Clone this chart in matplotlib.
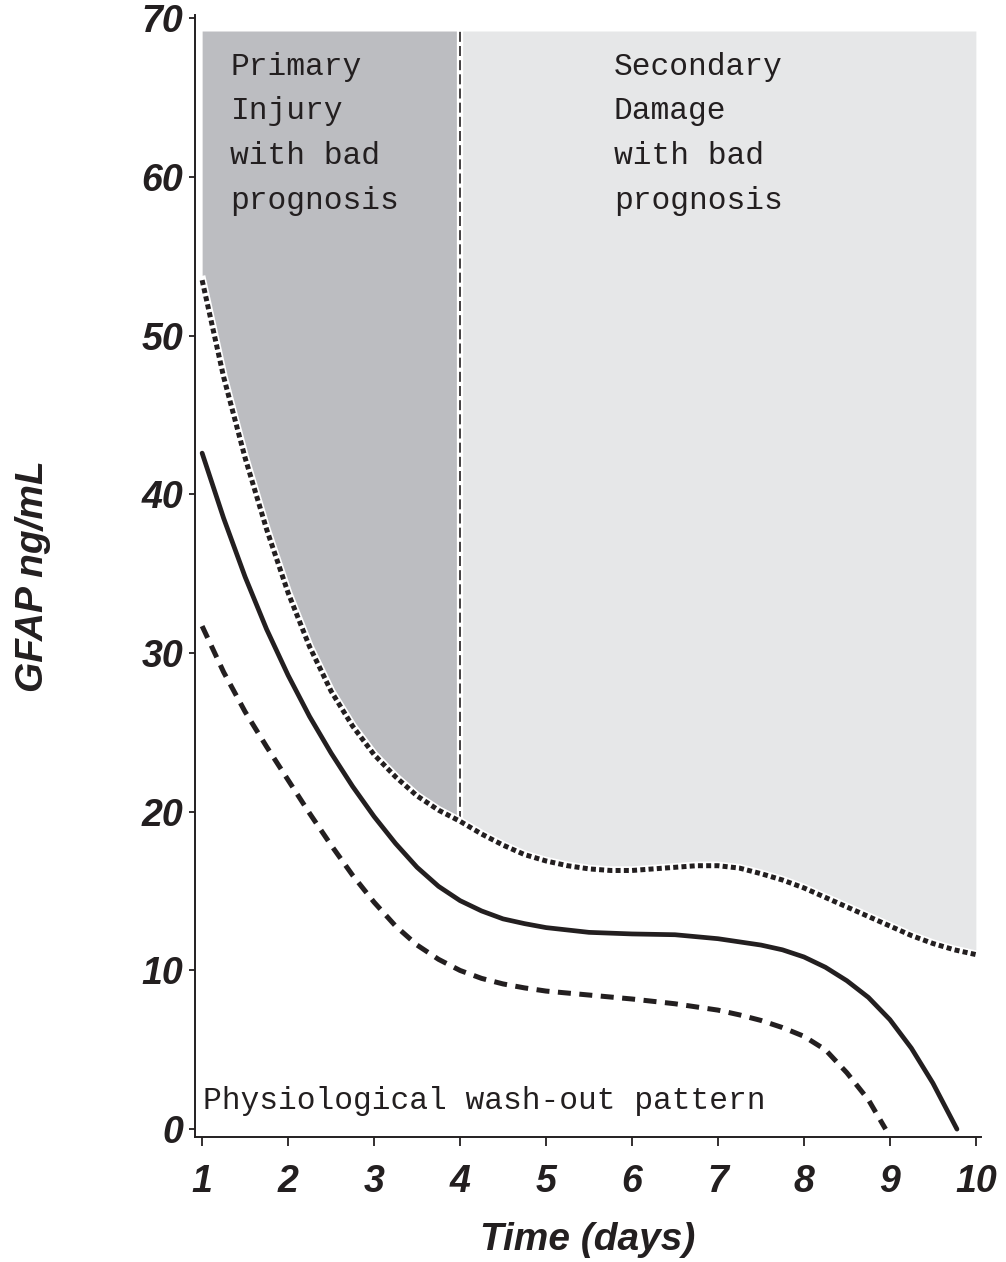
import matplotlib
matplotlib.use("Agg")
import matplotlib.pyplot as plt

# upper (dotted) boundary: bad prognosis threshold
upper_days = [1.0, 1.25, 1.5, 1.75, 2.0, 2.25, 2.5, 2.75, 3.0, 3.25, 3.5, 3.75, 4.0,
              4.25, 4.5, 4.75, 5.0, 5.25, 5.5, 5.75, 6.0, 6.25, 6.5, 6.75, 7.0,
              7.25, 7.5, 7.75, 8.0, 8.25, 8.5, 8.75, 9.0, 9.25, 9.5, 9.75, 10.0]
upper_gfap = [53.5, 47.4, 42.3, 37.8, 33.8, 30.4, 27.6, 25.4, 23.6, 22.2, 21.0, 20.1, 19.4,
              18.6, 17.9, 17.3, 16.9, 16.6, 16.4, 16.3, 16.3, 16.4, 16.5, 16.6, 16.6,
              16.45, 16.1, 15.7, 15.2, 14.6, 14.0, 13.4, 12.8, 12.2, 11.7, 11.3, 11.0]

# middle (solid) curve
mid_days = [1.0, 1.25, 1.5, 1.75, 2.0, 2.25, 2.5, 2.75, 3.0, 3.25, 3.5, 3.75, 4.0,
            4.25, 4.5, 4.75, 5.0, 5.5, 6.0, 6.5, 7.0, 7.5, 7.75, 8.0, 8.25, 8.5, 8.75,
            9.0, 9.25, 9.5, 9.78]
mid_gfap = [42.6, 38.5, 34.8, 31.5, 28.6, 26.0, 23.7, 21.6, 19.7, 18.0, 16.5, 15.3, 14.4,
            13.75, 13.25, 12.95, 12.7, 12.4, 12.3, 12.25, 12.0, 11.6, 11.3, 10.85, 10.2, 9.35, 8.3,
            6.9, 5.1, 2.9, 0.0]

# lower (dashed) curve: physiological wash-out
low_days = [1.0, 1.25, 1.5, 1.75, 2.0, 2.25, 2.5, 2.75, 3.0, 3.25, 3.5, 3.75, 4.0,
            4.25, 4.5, 4.75, 5.0, 5.5, 6.0, 6.5, 7.0, 7.25, 7.5, 7.75, 8.0, 8.25,
            8.5, 8.75, 8.95]
low_gfap = [31.7, 28.8, 26.3, 24.1, 22.0, 19.9, 17.9, 16.0, 14.3, 12.8, 11.6, 10.7, 10.0,
            9.5, 9.15, 8.9, 8.7, 8.45, 8.2, 7.9, 7.5, 7.2, 6.85, 6.4, 5.85, 5.0,
            3.55, 1.85, 0.0]

x_ticks = [1, 2, 3, 4, 5, 6, 7, 8, 9, 10]
y_ticks = [0, 10, 20, 30, 40, 50, 60, 70]
split_day = 4
top_gfap = 69.2

ink = "#231f20"
dark_grey = "#bcbdc1"
light_grey = "#e6e7e8"

fig = plt.figure(figsize=(10.06, 12.62), dpi=100)
ax = fig.add_axes([0.194, 0.099, 0.781, 0.889])

# shaded regions above the upper curve
n_split = upper_days.index(split_day)
ax.fill_between(upper_days[:n_split + 1], upper_gfap[:n_split + 1], top_gfap,
                color=dark_grey, lw=0, zorder=1)
ax.fill_between(upper_days[n_split:], upper_gfap[n_split:], top_gfap,
                color=light_grey, lw=0, zorder=1)

# vertical divider at day 4
y_split = upper_gfap[n_split]
ax.plot([split_day, split_day], [y_split, top_gfap], color="white", lw=4.5,
        solid_capstyle="butt", zorder=2)
ax.plot([split_day, split_day], [y_split, top_gfap], color=ink, lw=1.2,
        dashes=(6, 2.5), zorder=3)

# curves
ax.plot(upper_days, upper_gfap, color="white", lw=6, zorder=4)
ax.plot(upper_days, upper_gfap, color=ink, lw=3.6, dashes=(1, 0.65), zorder=5)
ax.plot(mid_days, mid_gfap, color=ink, lw=3.4, solid_capstyle="round", zorder=5)
ax.plot(low_days, low_gfap, color=ink, lw=3.6, dashes=(2.6, 1.7), zorder=5)

# annotations
note_font = dict(family="Liberation Mono", fontsize=22.5, color=ink,
                 linespacing=1.64, va="top", ha="left")
ax.text(1.33, 67.9, "Primary\nInjury\nwith bad\nprognosis", zorder=6, **note_font)
ax.text(5.79, 67.9, "Secondary\nDamage\nwith bad\nprognosis", zorder=6, **note_font)
ax.text(1.01, 1.8, "Physiological wash-out pattern", family="Liberation Mono",
        fontsize=22.5, color=ink, va="center", ha="left", zorder=6)

# axes styling
ax.set_xlim(0.919, 10.058)
ax.set_ylim(-0.5, 70.2)
ax.set_xticks(x_ticks)
ax.set_yticks(y_ticks)
tick_font = dict(family="Liberation Sans", weight="bold", style="italic", size=27)
ax.set_xticklabels([str(t) for t in x_ticks], fontdict=tick_font, color=ink)
ax.set_yticklabels([str(t) for t in y_ticks], fontdict=tick_font, color=ink)
ax.tick_params(axis="x", direction="out", length=6.5, width=1.3, color=ink, pad=13)
ax.tick_params(axis="y", direction="out", length=4.5, width=1.3, color=ink, pad=4)
for side in ["top", "right"]:
    ax.spines[side].set_visible(False)
for side in ["left", "bottom"]:
    ax.spines[side].set_color(ink)
    ax.spines[side].set_linewidth(1.4)

label_font = dict(family="Liberation Sans", weight="bold", style="italic", size=28)
ax.set_xlabel("Time (days)", fontdict=label_font, color=ink)
ax.set_ylabel("GFAP ng/mL", fontdict=label_font, color=ink)
ax.xaxis.set_label_coords(0.5, -0.076)
ax.yaxis.set_label_coords(-0.183, 0.5)

fig.savefig("out.png", dpi=100)
